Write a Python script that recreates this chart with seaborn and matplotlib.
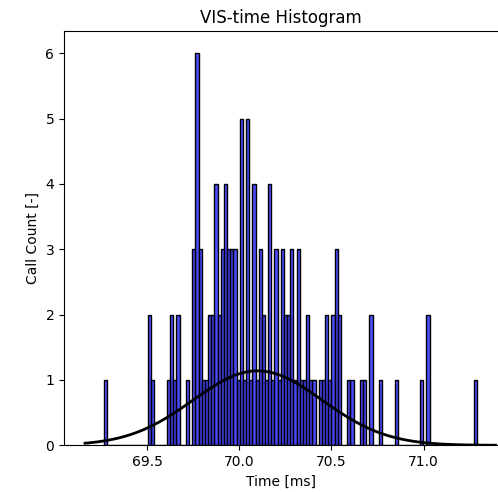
import numpy as np
import pandas as pd
import matplotlib
matplotlib.use("Agg")
import matplotlib.pyplot as plt
import seaborn as sns

# histogram: equal bins between the data min and max
bin_lo = 69.265
bin_hi = 71.290
n_bins = 118
counts = [
    1, 0, 0, 0, 0, 0, 0, 0, 0, 0,      # 0-9
    0, 0, 0, 0, 2, 1, 0, 0, 0, 0,      # 10-19
    1, 2, 1, 2, 0, 0, 1, 0, 3, 6,      # 20-29
    3, 1, 1, 2, 2, 4, 2, 3, 4, 3,      # 30-39
    3, 3, 1, 5, 1, 5, 1, 4, 1, 3,      # 40-49
    2, 1, 4, 1, 3, 1, 3, 2, 2, 3,      # 50-59
    1, 3, 1, 1, 2, 1, 1, 0, 1, 1,      # 60-69
    2, 1, 2, 3, 2, 0, 0, 1, 1, 0,      # 70-79
    0, 1, 1, 0, 2, 0, 0, 1, 0, 0,      # 80-89
    0, 0, 1, 0, 0, 0, 0, 0, 0, 0,      # 90-99
    1, 0, 2, 0, 0, 0, 0, 0, 0, 0,      # 100-109
    0, 0, 0, 0, 0, 0, 0, 1,            # 110-117
]
# fitted normal curve
mu = 70.10
sigma = 0.35
curve_lo = 69.164
curve_hi = 71.391

width = (bin_hi - bin_lo) / n_bins
centers = bin_lo + width * (np.arange(n_bins) + 0.5)
df = pd.DataFrame({"time": centers, "count": counts})

fig = plt.figure(figsize=(4.98, 4.92), dpi=100)
ax = fig.add_axes([64 / 498, (492 - 445.3) / 492, (498 - 64) / 498, (445.3 - 31) / 492])

sns.histplot(data=df, x="time", weights="count", bins=n_bins, binrange=(bin_lo, bin_hi),
             color="blue", alpha=0.7, edgecolor="black", linewidth=1.0, ax=ax)

xs = np.linspace(curve_lo, curve_hi, 100)
pdf = np.exp(-0.5 * ((xs - mu) / sigma) ** 2) / (sigma * np.sqrt(2 * np.pi))
sns.lineplot(x=xs, y=pdf, color="black", linewidth=2, ax=ax)

ax.set_xlim(69.05, 71.404)
ax.set_ylim(0, 6.34)
ax.set_xticks([69.5, 70.0, 70.5, 71.0])
ax.set_yticks([0, 1, 2, 3, 4, 5, 6])
ax.spines["right"].set_visible(False)
ax.set_title("VIS-time Histogram")
ax.set_xlabel("Time [ms]")
ax.set_ylabel("Call Count [-]")

fig.savefig("out.png", dpi=100)
